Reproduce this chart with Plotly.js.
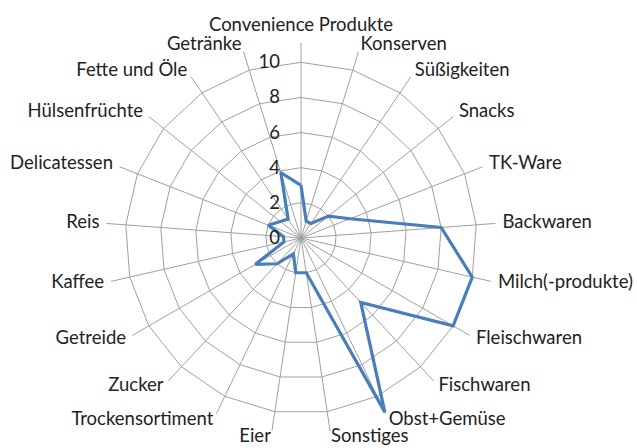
<!DOCTYPE html>
<html>
<head>
<meta charset="utf-8">
<script src="https://cdn.plot.ly/plotly-3.0.1.min.js"></script>
<style>html,body{margin:0;padding:0;background:#fff}#chart{width:637px;height:448px}</style>
</head>
<body>
<div id="chart"></div>
<script>
const categories = ["Convenience Produkte","Konserven","Süßigkeiten","Snacks","TK-Ware","Backwaren","Milch(-produkte)","Fleischwaren","Fischwaren","Obst+Gemüse","Sonstiges","Eier","Trockensortiment","Zucker","Getreide","Kaffee","Reis","Delicatessen","Hülsenfrüchte","Fette und Öle","Getränke"];
const values = [3, 1, 1, 2, 3, 8, 10, 10, 5, 11, 2, 2, 1, 2, 3, 1, 1, 2, 1.5, 1.3, 3.9];
const radialTicks = [0, 2, 4, 6, 8, 10];

const R_MAX = 11.1;            // radial range of the chart
const PX_MAIN = 195;           // radius (px) of main polar
const PX_LAB = 210;            // radius (px) of label polar overlay
const R_MAX_LAB = R_MAX * PX_LAB / PX_MAIN;
const LABEL_R = 11.5;
const n = categories.length;
const labelPositions = categories.map((c, i) => {
  const deg = i * 360 / n;
  if (deg < 1) return 'top center';
  if (deg < 180) return 'middle right';
  return 'middle left';
});

const trace = {
  type: 'scatterpolar',
  subplot: 'polar',
  mode: 'lines',
  r: values.concat([values[0]]),
  theta: categories.concat([categories[0]]),
  line: {color: '#4A7EBB', width: 3.2},
  hoverinfo: 'skip',
  showlegend: false
};

const labels = {
  type: 'scatterpolar',
  subplot: 'polar2',
  mode: 'text',
  r: categories.map(() => LABEL_R),
  theta: categories,
  text: categories,
  textposition: labelPositions,
  textfont: {family: 'Lato, "Open Sans", sans-serif', size: 18.5, color: '#222'},
  cliponaxis: false,
  hoverinfo: 'skip',
  showlegend: false
};

const cx = 301, cy = 238, W = 637, H = 448;
function dom(rpx) {
  return {x: [(cx - rpx) / W, (cx + rpx) / W], y: [1 - (cy + rpx) / H, 1 - (cy - rpx) / H]};
}

const angCommon = {
  type: 'category',
  categoryarray: categories,
  rotation: 90,
  direction: 'clockwise'
};

const layout = {
  width: W, height: H,
  margin: {l: 0, r: 0, t: 0, b: 0},
  paper_bgcolor: '#fff',
  font: {family: 'Lato, "Open Sans", sans-serif', size: 18.5, color: '#222'},
  showlegend: false,
  polar: {
    domain: dom(PX_MAIN),
    bgcolor: 'rgba(0,0,0,0)',
    gridshape: 'linear',
    angularaxis: Object.assign({}, angCommon, {
      showline: false,
      showticklabels: false,
      ticks: '',
      gridcolor: '#A0A0A0',
      gridwidth: 1
    }),
    radialaxis: {
      range: [0, R_MAX],
      angle: 90,
      side: 'counterclockwise',
      tickvals: radialTicks,
      ticktext: radialTicks.map(String),
      showline: false,
      ticks: 'outside',
      ticklen: 14,
      tickcolor: 'rgba(0,0,0,0)',
      gridcolor: '#A0A0A0',
      gridwidth: 1,
      tickfont: {size: 18.5, color: '#222'},
      tickangle: 90
    }
  },
  polar2: {
    domain: dom(PX_LAB),
    bgcolor: 'rgba(0,0,0,0)',
    angularaxis: Object.assign({}, angCommon, {visible: false, showgrid: false, showline: false, showticklabels: false, ticks: ''}),
    radialaxis: {range: [0, R_MAX_LAB], visible: false, showgrid: false, showline: false, showticklabels: false, ticks: ''}
  }
};

Plotly.newPlot('chart', [trace, labels], layout, {staticPlot: true, displayModeBar: false});
</script>
</body>
</html>
